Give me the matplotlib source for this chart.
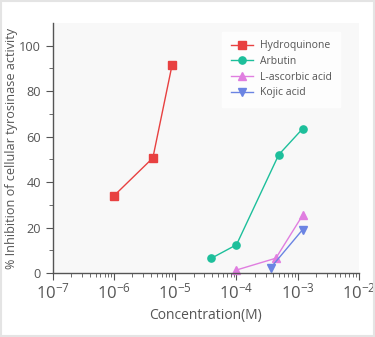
import numpy as np
import matplotlib.pyplot as plt
from matplotlib.ticker import FixedLocator, LogLocator, NullFormatter

plt.rcParams['font.family'] = ['Open Sans', 'DejaVu Sans']
plt.rcParams['mathtext.fontset'] = 'custom'
plt.rcParams['mathtext.rm'] = 'Open Sans'
plt.rcParams['mathtext.default'] = 'regular'

# data
hq_x = [1.0e-6, 4.3e-6, 8.9e-6]
hq_y = [34, 50.6, 91.7]
arb_x = [3.9e-5, 1.0e-4, 4.9e-4, 1.2e-3]
arb_y = [6.5, 12.4, 52, 63.4]
asc_x = [1.0e-4, 4.4e-4, 1.2e-3]
asc_y = [1.3, 6.5, 25.3]
koj_x = [3.6e-4, 1.2e-3]
koj_y = [2.2, 19]

names = ['Hydroquinone', 'Arbutin', 'L-ascorbic acid', 'Kojic acid']
colors = ['#e84141', '#1dbf9b', '#e07ee0', '#6b84e3']
markers = ['s', 'o', '^', 'v']

txt = '#555555'
fig = plt.figure(figsize=(3.75, 3.37), dpi=100)
fig.patch.set_facecolor('white')
fig.patches.append(plt.Rectangle((0.002, 0.002), 0.996, 0.996, transform=fig.transFigure,
                                  fill=False, edgecolor='#e4e4e4', linewidth=1.5))
ax = fig.add_axes([0.141, 0.19, 0.816, 0.742])
ax.set_facecolor('#f8f8f8')

series = [(hq_x, hq_y), (arb_x, arb_y), (asc_x, asc_y), (koj_x, koj_y)]
for (xs, ys), n, c, m in zip(series, names, colors, markers):
    ax.plot(xs, ys, color=c, marker=m, markersize=5.2, linewidth=1.0, label=n,
            clip_on=False)

ax.set_xscale('log')
ax.set_xlim(1e-7, 1e-2)
ax.set_ylim(0, 110)
ax.set_xticks([1e-7, 1e-6, 1e-5, 1e-4, 1e-3, 1e-2])
ax.set_xticklabels(['$10^{-%d}$' % k for k in range(7, 1, -1)])
ax.xaxis.set_minor_locator(LogLocator(base=10, subs=np.arange(2, 10)))
ax.xaxis.set_minor_formatter(NullFormatter())
ax.set_yticks([0, 20, 40, 60, 80, 100])
ax.yaxis.set_minor_locator(FixedLocator([10, 30, 50, 70, 90]))

for s in ['top', 'right']:
    ax.spines[s].set_visible(False)
for s in ['left', 'bottom']:
    ax.spines[s].set_color(txt)
    ax.spines[s].set_linewidth(1.0)
ax.tick_params(which='major', length=5, color=txt, labelcolor=txt, labelsize=9.2)
ax.tick_params(which='minor', length=3, color=txt)
ax.tick_params(axis='x', labelsize=12, pad=2)

ax.set_xlabel('Concentration(M)', color=txt, fontsize=10, labelpad=4)
ax.set_ylabel('% Inhibition of cellular tyrosinase activity', color=txt, fontsize=9.1)
ax.yaxis.set_label_coords(-0.115, 0.5)

leg = ax.legend(loc='upper right', bbox_to_anchor=(0.955, 0.985), fontsize=7.5,
                frameon=True, fancybox=False, handlelength=2.2, borderpad=0.8,
                labelspacing=0.45, handletextpad=0.6, labelcolor=txt)
leg.get_frame().set_facecolor('white')
leg.get_frame().set_edgecolor('white')

fig.savefig('out.png', dpi=100)
